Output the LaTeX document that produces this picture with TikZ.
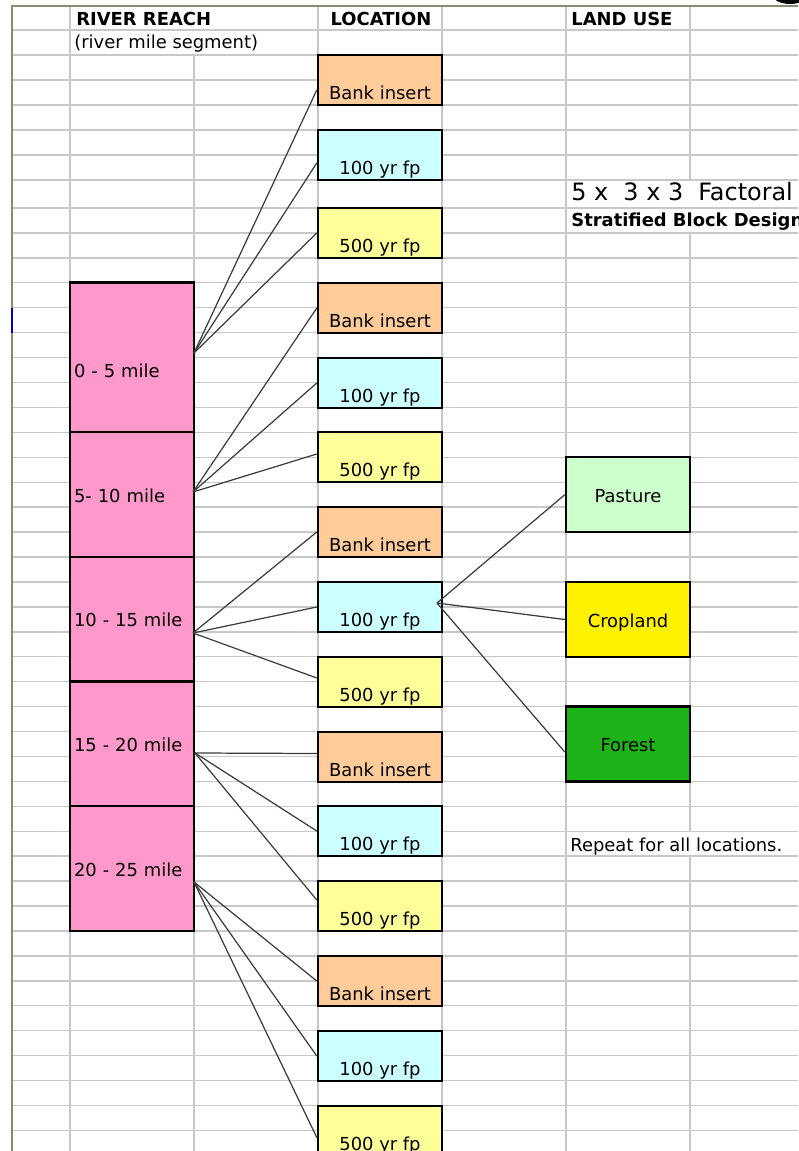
\documentclass[tikz,border=0pt]{standalone}
\usepackage{fontspec}
\setmainfont{DejaVu Sans}
\usetikzlibrary{calc}

\definecolor{bankc}{HTML}{FFCC99}
\definecolor{hundredc}{HTML}{CCFFFF}
\definecolor{fivehundredc}{HTML}{FFFF99}
\definecolor{reachc}{HTML}{FF99CC}
\definecolor{pasturec}{HTML}{CCFFCC}
\definecolor{croplandc}{HTML}{FFF200}
\definecolor{forestc}{HTML}{1FB31A}
\definecolor{gridc}{HTML}{C8C8C8}
\definecolor{framec}{HTML}{8A8A70}
\definecolor{linkc}{HTML}{3C3C3C}

\tikzset{
    gridline/.style={gridc, line width=0.8pt},
    link/.style={linkc, line width=0.7pt},
    hdr/.style={inner sep=0pt, font=\fontsize{10.2}{12}\selectfont\bfseries},
    txt/.style={inner sep=0pt},
    locbox/.style={draw, line width=1.4pt, minimum width=2.48cm, inner sep=0pt, text height=0.89cm, text depth=0.11cm},
    reach/.style={draw, line width=1.4pt, fill=reachc, text width=2.32cm, align=left, inner xsep=0.08cm, inner ysep=0pt, text depth=1.1cm},
    landuse/.style={draw, line width=1.4pt, minimum width=2.48cm, inner sep=0pt, text height=0.9cm, text depth=0.6cm}
}

\begin{document}
\begin{tikzpicture}[x=0.02cm, y=-0.02cm, font=\fontsize{10.2}{12}\selectfont]
    \useasboundingbox (0,0) rectangle (798,1151);
    \fill[white] (0,0) rectangle (798,1151);

    % sheet grid
    \foreach \y in {30,55,80,105,130,155,180,208} {
        \draw[gridline] (12,\y) -- (798,\y);
    }
    \foreach \i in {1,...,38} {
        \draw[gridline] (12,{208+24.93*\i}) -- (798,{208+24.93*\i});
    }
    \foreach \x in {70,318,442,566} {
        \draw[gridline] (\x,6) -- (\x,1151);
    }
    \draw[gridline] (194,55) -- (194,1151);
    \draw[gridline] (690,6) -- (690,180) (690,233) -- (690,831.3) (690,856.2) -- (690,1151);
    \draw[framec, line width=1pt] (12,1151) -- (12,6) -- (798,6);
    \draw[blue!80!black, line width=1.5pt] (12,308) -- (12,333);
    \fill[black] (790,-6) ellipse (18 and 10);

    % headings
    \node[hdr, anchor=west] (reachhdr) at (76,19) {RIVER REACH};
    \node[txt, anchor=base west] (reachsub) at (74,49) {(river mile segment)};
    \node[hdr] (lochdr) at (381,19) {LOCATION};
    \node[hdr, anchor=west] (usehdr) at (571,19) {LAND USE};
    \node[txt, anchor=base west, font=\fontsize{13.6}{16}\selectfont] (design) at (571,201) {5 x\ \ 3 x 3\ \ Factoral};
    \node[hdr, anchor=base west] (designsub) at (571,227) {Stratified Block Design};
    \node[txt, anchor=base west] (repeat) at (570,851) {Repeat for all locations.};

    % river reaches
    \node[reach, text height=1.9cm] (r1) at (132,357.6) {0 - 5 mile};
    \node[reach, text height=1.4cm] (r2) at (132,494.7) {5- 10 mile};
    \node[reach, text height=1.4cm] (r3) at (132,619.3) {10 - 15 mile};
    \node[reach, text height=1.4cm] (r4) at (132,744) {15 - 20 mile};
    \node[reach, text height=1.4cm] (r5) at (132,868.7) {20 - 25 mile};

    % locations
    \foreach \n/\yb/\yc/\yf in {1/80/155/233, 2/308/383/457, 3/532/607/682, 4/757/831/906, 5/981/1056/1131} {
        \node[locbox, fill=bankc] (b\n) at (380,\yb) {Bank insert};
        \node[locbox, fill=hundredc] (c\n) at (380,\yc) {100 yr fp};
        \node[locbox, fill=fivehundredc] (f\n) at (380,\yf) {500 yr fp};
    }

    % land use
    \node[landuse, fill=pasturec] (pasture) at (628,494.7) {Pasture};
    \node[landuse, fill=croplandc] (cropland) at (628,619.5) {Cropland};
    \node[landuse, fill=forestc] (forest) at (628,744) {Forest};

    % connectors
    \coordinate (h1) at (194,353);
    \coordinate (h2) at (193,492);
    \coordinate (h3) at (193,633);
    \coordinate (h4) at (195,753);
    \coordinate (h5) at (194,882);
    \coordinate (hc3) at (437,603);

    \foreach \hub/\tgt/\dy in {h1/b1/-0.2, h1/c1/-0.16, h1/f1/0,
                               h2/b2/0, h2/c2/0, h2/f2/0.06,
                               h3/b3/0, h3/c3/0, h3/f3/0.08,
                               h4/b4/0.07, h4/c4/0, h4/f4/0.12,
                               h5/b5/0, h5/c5/0, h5/f5/-0.13,
                               hc3/pasture/0, hc3/cropland/0, hc3/forest/-0.16} {
        \draw[link] (\hub) -- ([yshift=\dy cm]\tgt.west);
    }
\end{tikzpicture}
\end{document}
